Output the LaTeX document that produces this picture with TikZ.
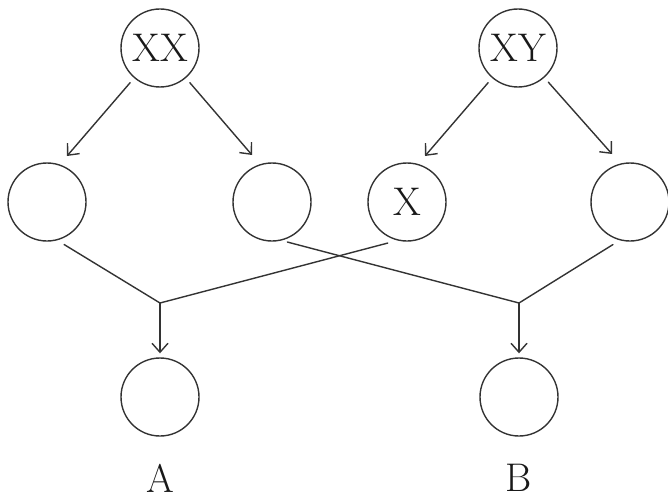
\documentclass[tikz,border=0pt]{standalone}
\usetikzlibrary{arrows.meta}
\begin{document}
\begin{tikzpicture}[x=1pt,y=-1pt,
  circ/.style={draw=black!80,line width=1.4pt,circle,minimum size=78pt,inner sep=0pt,
    font=\fontsize{40}{40}\selectfont,text=black!90},
  lbl/.style={font=\fontsize{40}{40}\selectfont,text=black!90,inner sep=0pt},
  ln/.style={draw=black!80,line width=1.4pt,line cap=round},
  arr/.style={ln,-{Straight Barb[length=9pt,width=16pt,line width=1.4pt]}}]
\useasboundingbox (0,0) rectangle (668,500);
% nodes
\node[circ] (xx) at (160,48) {XX};
\node[circ] (xy) at (518,48) {XY};
\node[circ] (l1) at (47,202) {};
\node[circ] (l2) at (272,202) {};
\node[circ] (x)  at (407,202) {X};
\node[circ] (r)  at (630,202) {};
\node[circ] (a)  at (160,397) {};
\node[circ] (b)  at (519,397) {};
\node[lbl] (la) at (160,478) {A};
\node[lbl] (lb) at (519,478) {B};
% arrow tips and junctions
\coordinate (t1) at (67,156);
\coordinate (t2) at (252,155);
\coordinate (t3) at (425,156);
\coordinate (t4) at (612,154);
\coordinate (ja) at (160,303);
\coordinate (jb) at (519,303);
% top arrows
\draw[arr,shorten <=6pt] (xx) -- (t1);
\draw[arr,shorten <=6pt] (xx) -- (t2);
\draw[arr,shorten <=6pt] (xy) -- (t3);
\draw[arr,shorten <=6pt] (xy) -- (t4);
% crossing lines
\draw[ln,shorten <=8pt] (l1.-75) -- (ja);
\draw[ln,shorten <=10pt] (x.-104) -- (ja);
\draw[ln,shorten <=6pt] (l2.-76) -- (jb);
\draw[ln,shorten <=8pt] (r.-105) -- (jb);
% down arrows
\draw[arr,shorten >=4pt] (ja) -- (a);
\draw[arr,shorten >=4pt] (jb) -- (b);
\end{tikzpicture}
\end{document}
